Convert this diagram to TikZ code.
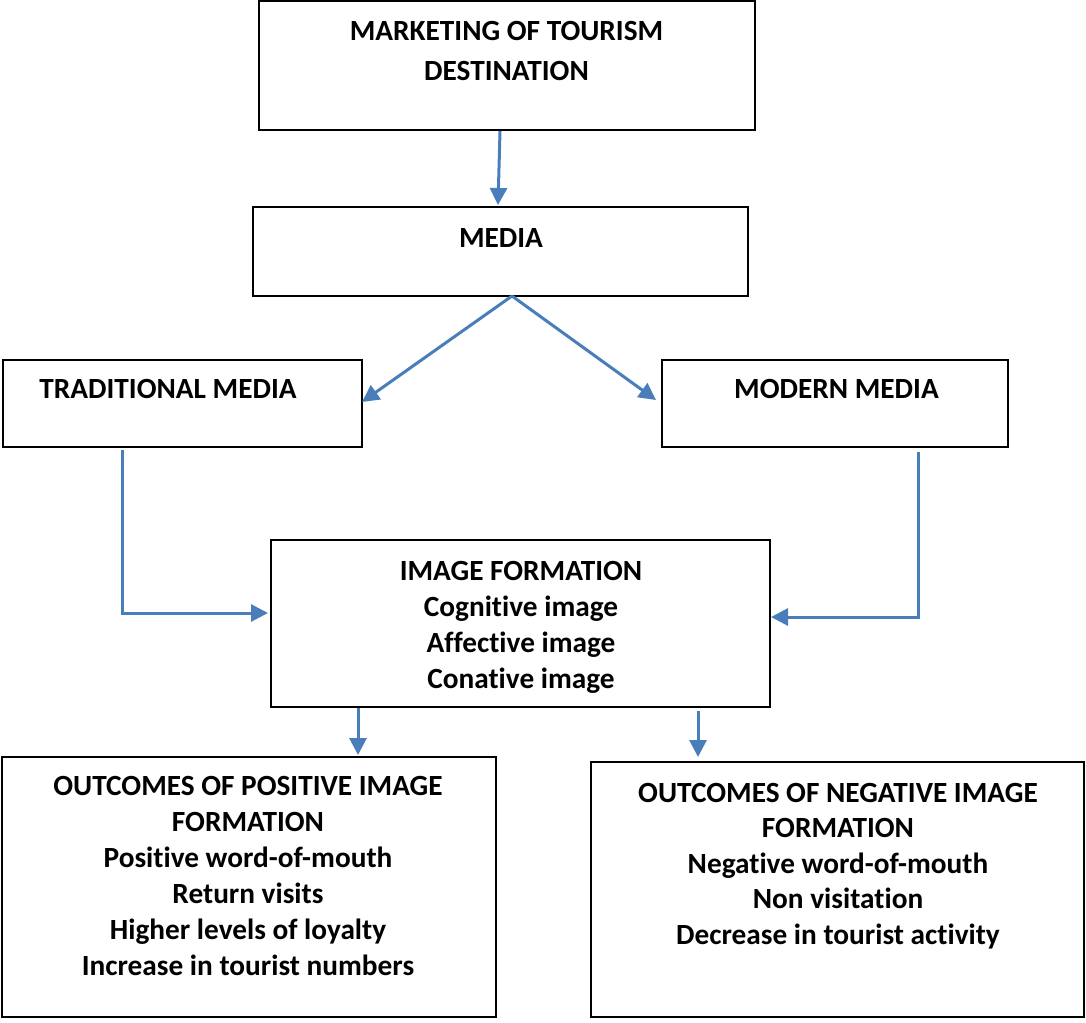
\documentclass[tikz,border=0pt]{standalone}
\usepackage{fontspec}
\setmainfont{Carlito}[Ligatures=NoCommon]
\usetikzlibrary{arrows.meta,calc}
\definecolor{arrowblue}{HTML}{4A7EBB}

\begin{document}
\begin{tikzpicture}[x=1pt,y=-1pt,
  box/.style={draw=black, line width=2.2pt, rectangle, inner sep=0pt, outer sep=0pt},
  label/.style={anchor=base, align=center, inner sep=0pt,
    font=\bfseries\fontsize{29.3}{36}\selectfont},
  arr/.style={draw=arrowblue, line width=3pt,
    -{Triangle[length=17pt,width=17pt]}}]

\useasboundingbox (0,0) rectangle (1086,1022);

% boxes
\node[box, minimum width=496pt, minimum height=129pt] (top) at (507,65.5) {};
\node[box, minimum width=495pt, minimum height=89pt] (media) at (500.5,251.5) {};
\node[box, minimum width=359pt, minimum height=87pt] (trad) at (182.5,403.5) {};
\node[box, minimum width=346pt, minimum height=87pt] (modern) at (835,403.5) {};
\node[box, minimum width=499pt, minimum height=167pt] (img) at (520.5,623.5) {};
\node[box, minimum width=494pt, minimum height=260pt] (pos) at (249,887) {};
\node[box, minimum width=493pt, minimum height=255pt] (neg) at (837.5,889.5) {};

% texts (anchored at the baseline of their last line)
\node[label, font=\bfseries\fontsize{29.3}{40}\selectfont] (topt) at (506.5,81)
  {MARKETING OF TOURISM\\DESTINATION};
\node[label] (mediat) at (501,247) {MEDIA};
\node[label] (tradt) at (168,398) {TRADITIONAL MEDIA};
\node[label] (modernt) at (836.5,398) {MODERN MEDIA};
\node[label] (imgt) at (521,688)
  {IMAGE FORMATION\\Cognitive image\\Affective image\\Conative image};
\node[label] (post) at (248,975)
  {OUTCOMES OF POSITIVE IMAGE\\FORMATION\\Positive word-of-mouth\\Return visits\\Higher levels of loyalty\\Increase in tourist numbers};
\node[label, font=\bfseries\fontsize{29.3}{35.5}\selectfont] (negt) at (838,944)
  {OUTCOMES OF NEGATIVE IMAGE\\FORMATION\\Negative word-of-mouth\\Non visitation\\Decrease in tourist activity};

% connectors
\draw[arr] ([xshift=-7pt,yshift=-1pt]top.south) -- ([xshift=-2.5pt,yshift=2pt]media.north);
\draw[arr] ([xshift=11.5pt]media.south) -- ([yshift=1.5pt]trad.east);
\draw[arr] ([xshift=11.5pt]media.south) -- ([xshift=-6pt,yshift=3.5pt]modern.west);
\draw[arr] ([xshift=-60.5pt,yshift=-3pt]trad.south)
  |- ([xshift=-3pt,yshift=10.5pt]img.west);
\draw[arr] ([xshift=83pt,yshift=-5pt]modern.south)
  |- ([xshift=1pt,yshift=6.5pt]img.east);
\draw[arr] ([xshift=-162.5pt,yshift=-1pt]img.south)
  -- ([xshift=-162.5pt,yshift=2pt]img.south |- pos.north);
\draw[arr] ([xshift=177.5pt,yshift=-4pt]img.south)
  -- ([xshift=177.5pt,yshift=5pt]img.south |- neg.north);

\end{tikzpicture}
\end{document}
